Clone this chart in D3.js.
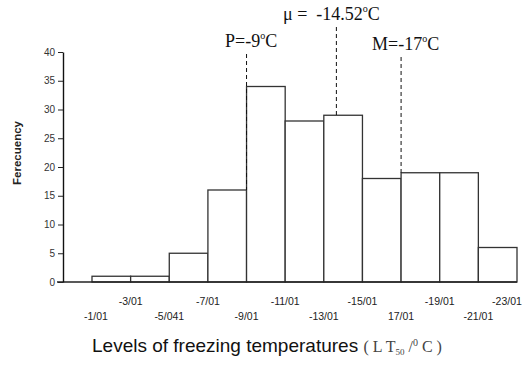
<!DOCTYPE html>
<html><head><meta charset="utf-8">
<script src="https://cdn.jsdelivr.net/npm/d3@7"></script>
<style>body{margin:0;background:#fff}svg{display:block}text{white-space:pre}</style>
</head><body>
<svg id="c" width="524" height="368"></svg>
<script>
const binEdges = [-1,-3,-5,-7,-9,-11,-13,-15,-17,-19,-21,-23];
const frequencies = [1,1,5,16,34,28,29,18,19,19,6];
const tickLabels = ["-1/01","-3/01","-5/041","-7/01","-9/01","-11/01","-13/01","-15/01","17/01","-19/01","-21/01","-23/01"];
const yTicks = [0,5,10,15,20,25,30,35,40];
const markerNames = ["P=-9", "\u03bc =  -14.52", "M=-17"];
const markerTemps = [-9, -13.65, -17];
const markerTops = [16, 29, 19];

const svg = d3.select("#c");
const x = d3.scaleLinear().domain([-1,-23]).range([92,517]);
const y = d3.scaleLinear().domain([0,40]).range([282,52]);

// bars
const bins = frequencies.map((v,i)=>({x0:binEdges[i],x1:binEdges[i+1],v}));
svg.append("g").selectAll("rect").data(bins).join("rect")
  .attr("x",d=>x(d.x0)).attr("width",d=>x(d.x1)-x(d.x0))
  .attr("y",d=>y(d.v)).attr("height",d=>y(0)-y(d.v))
  .attr("fill","#fff").attr("stroke","#333").attr("stroke-width",1.3);

// baseline
svg.append("line").attr("x1",57).attr("x2",x(-23)).attr("y1",y(0)).attr("y2",y(0))
  .attr("stroke","#222").attr("stroke-width",1.3);

// y axis
const ya = svg.append("g").attr("transform","translate(63,0)")
  .call(d3.axisLeft(y).tickValues(yTicks).tickSize(5).tickSizeOuter(0).tickPadding(3));
ya.select(".domain").attr("stroke","#111").attr("stroke-width",1.4);
ya.selectAll(".tick line").attr("stroke","#222");
ya.selectAll(".tick text").attr("font-family","Arial, 'Liberation Sans', sans-serif")
  .attr("font-size",10).attr("fill","#333");

// y label
svg.append("text").attr("transform","translate(21,153) rotate(-90)")
  .attr("text-anchor","middle").attr("font-family","Arial, 'Liberation Sans', sans-serif")
  .attr("font-weight","bold").attr("font-size",11.5).attr("fill","#222").text("Ferecuency");

// x tick labels
svg.append("g").selectAll("text").data(tickLabels).join("text")
  .attr("x",(d,i)=>x(binEdges[i]) + (i===0?4:(i===binEdges.length-1?-10:0)))
  .attr("y",(d,i)=> i%2===0 ? 320 : 305)
  .attr("text-anchor","middle").attr("font-family","Arial, 'Liberation Sans', sans-serif")
  .attr("font-size",10.5).attr("fill","#222").text(d=>d);

// x title
const t = svg.append("text").attr("x",92).attr("y",352)
  .attr("font-family","Arial, 'Liberation Sans', sans-serif").attr("font-size",19).attr("fill","#111");
t.append("tspan").text("Levels of freezing temperatures ");
const ser = "'Times New Roman', 'Liberation Serif', serif";
t.append("tspan").attr("font-family",ser).attr("font-size",16).attr("fill","#444").text("( L T");
t.append("tspan").attr("font-family",ser).attr("font-size",9).attr("fill","#444").attr("dy",3).text("50");
t.append("tspan").attr("font-family",ser).attr("font-size",16).attr("fill","#444").attr("dy",-3).text(" /");
t.append("tspan").attr("font-family",ser).attr("font-size",10).attr("fill","#444").attr("dy",-6).text("0");
t.append("tspan").attr("font-family",ser).attr("font-size",16).attr("fill","#444").attr("dy",6).text(" C )");

// markers
const labelY = [47, 20, 50];
const labelX = [225, 283, 372];
markerTemps.forEach((m,i)=>{
  svg.append("line").attr("x1",x(m)).attr("x2",x(m))
    .attr("y1",labelY[i]+7).attr("y2",y(markerTops[i]))
    .attr("stroke","#111").attr("stroke-width",1).attr("stroke-dasharray","4,3");
  const lt = svg.append("text").attr("x",labelX[i]).attr("y",labelY[i])
    .attr("font-family",ser).attr("font-size",18).attr("fill","#111");
  lt.append("tspan").text(markerNames[i]);
  lt.append("tspan").attr("font-size",10).attr("dy",-8).text("o");
  lt.append("tspan").attr("dy",8).text("C");
});
</script>
</body></html>
